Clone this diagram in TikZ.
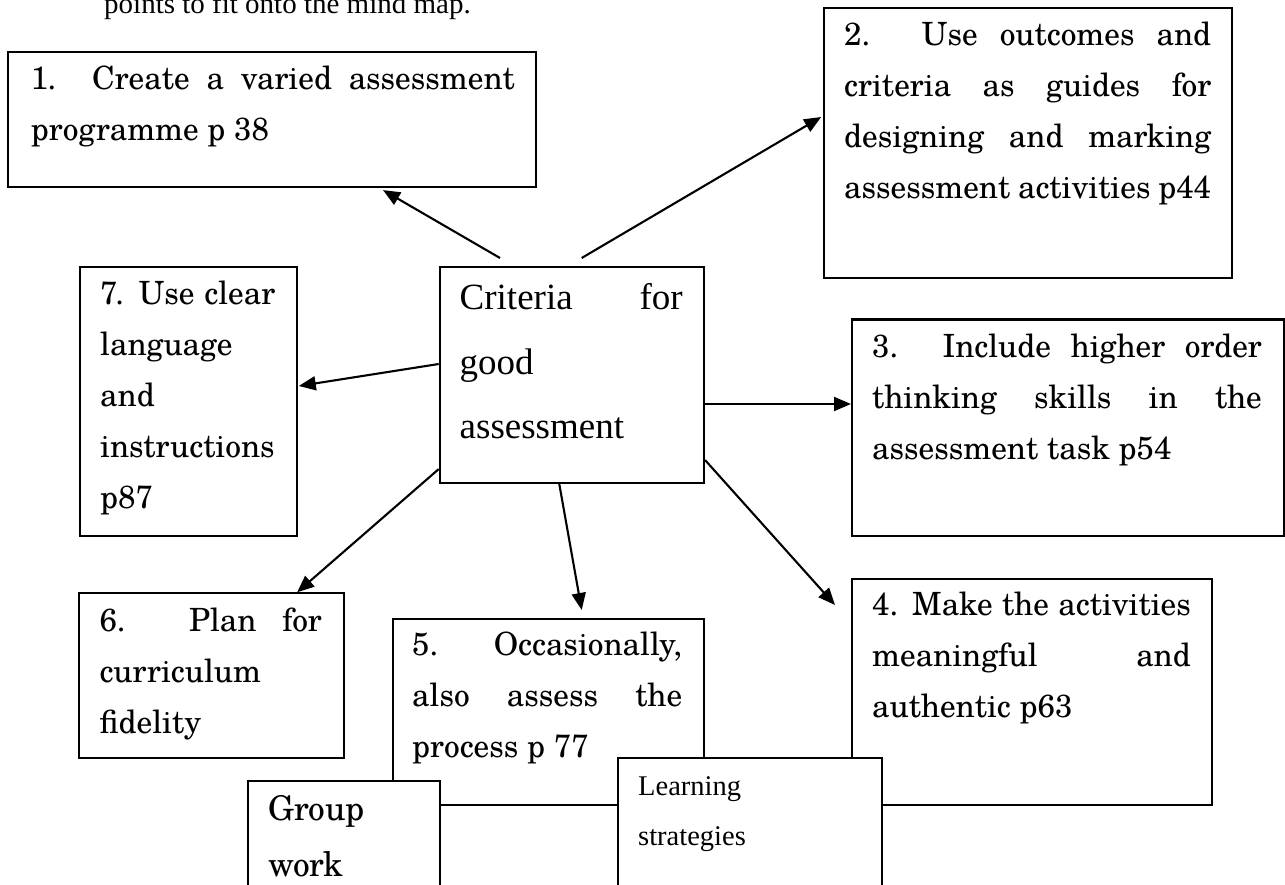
\documentclass[tikz,border=0pt]{standalone}
\usepackage{fontspec}
\usetikzlibrary{arrows.meta}
\newfontfamily\bkfont{texgyreschola-regular.otf}[FakeStretch=0.98]
\newfontfamily\tnfont{Liberation Serif}
\tolerance=9999
\hyphenpenalty=10000
\exhyphenpenalty=10000
\tikzset{
  box/.style={draw, line width=2.1pt, fill=white, anchor=north west, inner sep=0pt},
  btxt/.style={anchor=base west, inner sep=0pt, align=justify, font=\bkfont\fontsize{32}{51}\selectfont},
  ttxt/.style={anchor=base west, inner sep=0pt, align=justify},
  arr/.style={line width=2.1pt, -{Triangle[length=17pt,width=14pt]}},
}
\begin{document}
\begin{tikzpicture}[x=1pt,y=-1pt]
\useasboundingbox (0,0) rectangle (1285,885);
\clip (0,0) rectangle (1285,885);
\fill[white] (0,0) rectangle (1285,885);

% top note (cut off)
\node[anchor=base west, inner sep=0pt, font=\tnfont\fontsize{29}{34}\selectfont] (note) at (104,14) {points to fit onto the mind map.};

% box 1
\node[box, minimum width=528.3pt, minimum height=135.3pt] (b1) at (6.7,50.7) {};
\node[btxt, text width=484pt] (b1t) at ([xshift=24pt,yshift=-38.4pt]b1.north west)
  {1. Create a varied assessment\linebreak programme p 38};

% box 2
\node[box, minimum width=408.3pt, minimum height=269.4pt] (b2) at (822.7,7.3) {};
\node[btxt, text width=367pt] (b2t) at ([xshift=21.3pt,yshift=-38.7pt]b2.north west)
  {2. Use outcomes and\linebreak criteria as guides for\linebreak designing and marking\linebreak assessment activities p44};

% box 3
\node[box, minimum width=432.3pt, minimum height=216.5pt] (b3) at (851,318.5) {};
\node[btxt, text width=389.7pt] (b3t) at ([xshift=21pt,yshift=-39pt]b3.north west)
  {3. Include higher order\linebreak thinking skills in the\linebreak assessment task p54};

% box 7
\node[box, minimum width=216.7pt, minimum height=269pt] (b7) at (79,266) {};
\node[btxt, text width=175pt] (b7t) at ([xshift=21pt,yshift=-39pt]b7.north west)
  {7. Use clear\linebreak language\\and\\instructions\\p87};

% centre box
\node[box, minimum width=264.2pt, minimum height=216pt] (crit) at (438.7,266) {};
\node[ttxt, text width=223pt, font=\tnfont\fontsize{37}{64}\selectfont] (critt) at ([xshift=20.8pt,yshift=-44pt]crit.north west)
  {Criteria for\linebreak good\\assessment};

% box 6
\node[box, minimum width=265pt, minimum height=165pt] (b6) at (78.3,592.3) {};
\node[btxt, text width=222.4pt] (b6t) at ([xshift=21pt,yshift=-39.4pt]b6.north west)
  {6. Plan for\linebreak curriculum\\fidelity};

% box 5
\node[box, minimum width=311.5pt, minimum height=186.3pt] (b5) at (391.5,617.7) {};
\node[btxt, text width=270pt] (b5t) at ([xshift=20.5pt,yshift=-37.3pt]b5.north west)
  {5. Occasionally,\linebreak also assess the\linebreak process p 77};

% box 4
\node[box, minimum width=360pt, minimum height=225.7pt] (b4) at (851,578.3) {};
\node[btxt, text width=318.7pt] (b4t) at ([xshift=21pt,yshift=-36.7pt]b4.north west)
  {4. Make the activities\linebreak meaningful and\linebreak authentic p63};

% group work
\node[box, minimum width=192pt, minimum height=130pt] (grp) at (247,780) {};
\node[anchor=base west, inner sep=0pt, text width=160pt, align=left, font=\bkfont\fontsize{34}{56}\selectfont] (grpt) at ([xshift=21pt,yshift=-40pt]grp.north west)
  {Group\\work};

% learning strategies
\node[box, minimum width=264pt, minimum height=150pt] (lrn) at (617,757) {};
\node[anchor=base west, inner sep=0pt, text width=220pt, align=left, font=\tnfont\fontsize{28.5}{50}\selectfont] (lrnt) at ([xshift=21pt,yshift=-38pt]lrn.north west)
  {Learning\\strategies};

% arrows
\draw[arr] ([xshift=61.3pt,yshift=8pt]crit.north west) -- ([xshift=376.3pt,yshift=-2pt]b1.south west);
\draw[arr] ([xshift=143pt,yshift=8pt]crit.north west) -- ([xshift=-1.5pt,yshift=-109.7pt]b2.north west);
\draw[arr] ([yshift=-138pt]crit.north east) -- ([yshift=-85.5pt]b3.north west);
\draw[arr] ([yshift=-194pt]crit.north east) -- ([xshift=-16pt,yshift=-26.7pt]b4.north west);
\draw[arr] ([xshift=120.6pt]crit.south west) -- ([xshift=190.2pt,yshift=7.7pt]b5.north west);
\draw[arr] ([yshift=15pt]crit.south west) -- ([xshift=-48.3pt]b6.north east);
\draw[arr] ([yshift=-98pt]crit.north west) -- ([xshift=1pt,yshift=-120pt]b7.north east);
\end{tikzpicture}
\end{document}
